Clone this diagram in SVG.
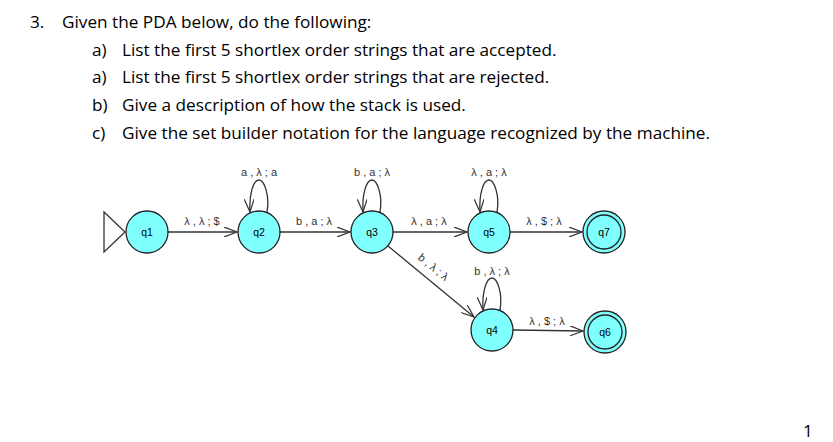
<svg xmlns="http://www.w3.org/2000/svg" width="833" height="442" viewBox="0 0 833 442">
<style>
.t{font-family:"Open Sans","Liberation Sans",sans-serif;font-size:17.2px;fill:#000}
.l{font-family:"Liberation Sans",Arial,sans-serif;font-size:11px;fill:#333;text-anchor:middle}
.n circle{fill:#80ffff;stroke:#222;stroke-width:1.3}
.n text{font-family:"Liberation Sans",Arial,sans-serif;font-size:10.5px;text-anchor:middle;fill:#000}
.e path{fill:none;stroke:#333;stroke-width:1.3}
</style>
<defs><marker id="a" markerWidth="14" markerHeight="10" refX="13" refY="5" orient="auto" markerUnits="userSpaceOnUse"><path d="M0,0 L13,5 L0,10" fill="none" stroke="#333" stroke-width="1.2"/></marker></defs>
<rect width="833" height="442" fill="#fff"/>
<text class="t" x="30" y="28">3.</text><text class="t" x="62" y="28">Given the PDA below, do the following:</text>
<text class="t" x="92" y="56">a)</text><text class="t" x="122" y="56">List the first 5 shortlex order strings that are accepted.</text>
<text class="t" x="92" y="83">a)</text><text class="t" x="122" y="83">List the first 5 shortlex order strings that are rejected.</text>
<text class="t" x="92" y="111">b)</text><text class="t" x="122" y="111">Give a description of how the stack is used.</text>
<text class="t" x="92" y="139">c)</text><text class="t" x="122" y="139">Give the set builder notation for the language recognized by the machine.</text>
<text class="t" x="803" y="437">1</text>
<g class="e" id="connectors">
<path d="M104,212 L125,232 L104,252 Z"/>
<path d="M168,232 L237,232" marker-end="url(#a)"/>
<path d="M280,232 L350,232" marker-end="url(#a)"/>
<path d="M393,232 L467,232" marker-end="url(#a)"/>
<path d="M510,232 L582,232" marker-end="url(#a)"/>
<path d="M513,330 L583,331" marker-end="url(#a)"/>
<path d="M388,246 L474,317" marker-end="url(#a)"/>
<path d="M267,212 C270,195 264,180 259,180 C253,180 249,195 250,212" marker-end="url(#a)"/>
<path d="M380,212 C383,195 377,180 372,180 C366,180 362,195 363,212" marker-end="url(#a)"/>
<path d="M497,212 C500,195 494,180 489,180 C483,180 479,195 480,212" marker-end="url(#a)"/>
<path d="M500,310 C503,293 497,278 492,278 C486,278 482,293 483,310" marker-end="url(#a)"/>
</g>
<g class="labels">
<text class="l" x="202" y="225">λ , λ ; $</text>
<text class="l" x="314" y="225">b , a ; λ</text>
<text class="l" x="429" y="225">λ , a ; λ</text>
<text class="l" x="544" y="225">λ , $ ; λ</text>
<text class="l" x="547" y="325">λ , $ ; λ</text>
<text class="l" x="259" y="176">a , λ ; a</text>
<text class="l" x="372" y="176">b , a ; λ</text>
<text class="l" x="489" y="176">λ , a ; λ</text>
<text class="l" x="492" y="275">b , λ ; λ</text>
<text class="l" transform="translate(431,270) rotate(39)">b , λ ; λ</text>
</g>
<g class="n" id="q1"><circle cx="147" cy="232" r="21"/><text x="147" y="236">q1</text></g>
<g class="n" id="q2"><circle cx="259" cy="232" r="21"/><text x="259" y="236">q2</text></g>
<g class="n" id="q3"><circle cx="372" cy="232" r="21"/><text x="372" y="236">q3</text></g>
<g class="n" id="q5"><circle cx="489" cy="232" r="21"/><text x="489" y="236">q5</text></g>
<g class="n" id="q7"><circle cx="604" cy="232" r="21"/><circle cx="604" cy="232" r="17"/><text x="604" y="236">q7</text></g>
<g class="n" id="q4"><circle cx="492" cy="330" r="21"/><text x="492" y="334">q4</text></g>
<g class="n" id="q6"><circle cx="605" cy="332" r="21"/><circle cx="605" cy="332" r="17"/><text x="605" y="336">q6</text></g>
</svg>
